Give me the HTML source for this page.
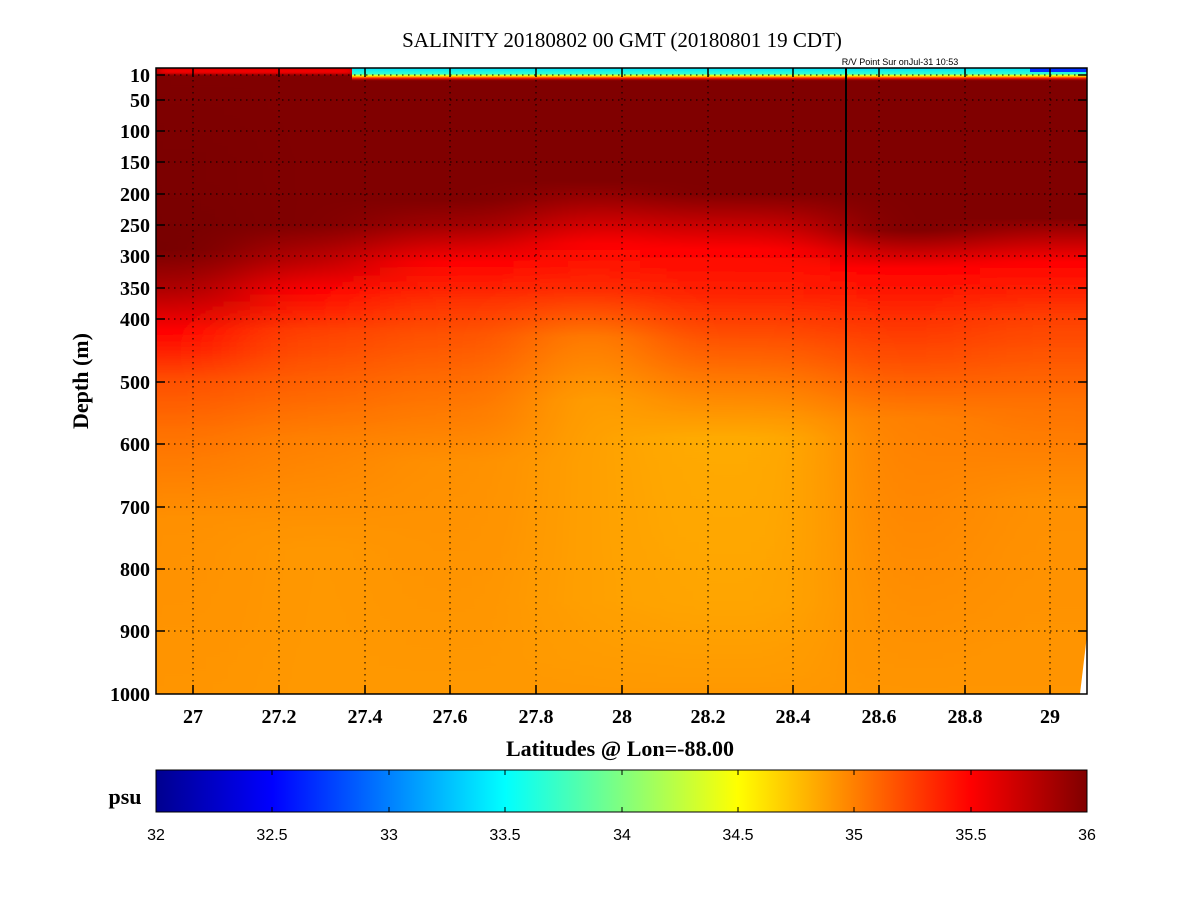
<!DOCTYPE html>
<html><head><meta charset="utf-8"><style>body{margin:0;background:#fff}svg{display:block}</style></head><body>
<svg width="1201" height="901" xmlns="http://www.w3.org/2000/svg">
<defs>
<filter id="bl" x="-20%" y="0" width="140%" height="100%"><feGaussianBlur stdDeviation="40 0"/></filter>
<filter id="bl2" x="-5%" y="-50%" width="110%" height="200%"><feGaussianBlur stdDeviation="6 1"/></filter>
<clipPath id="pc"><rect x="156" y="68" width="931" height="626"/></clipPath>
<linearGradient id="c1" gradientUnits="userSpaceOnUse" x1="0" y1="68" x2="0" y2="694">
<stop offset="0" stop-color="#800000"/><stop offset="0.29" stop-color="#780000"/><stop offset="0.355" stop-color="#b00000"/><stop offset="0.42" stop-color="#ff0000"/><stop offset="0.5" stop-color="#ff5000"/><stop offset="0.58" stop-color="#ff7000"/><stop offset="0.72" stop-color="#ff9000"/><stop offset="1" stop-color="#ff9500"/></linearGradient>
<linearGradient id="c2" gradientUnits="userSpaceOnUse" x1="0" y1="68" x2="0" y2="694">
<stop offset="0" stop-color="#800000"/><stop offset="0.25" stop-color="#800000"/><stop offset="0.31" stop-color="#c00000"/><stop offset="0.355" stop-color="#ff0000"/><stop offset="0.42" stop-color="#ff4000"/><stop offset="0.5" stop-color="#ff6000"/><stop offset="0.59" stop-color="#ff8000"/><stop offset="0.77" stop-color="#ff9800"/><stop offset="1" stop-color="#ff9800"/></linearGradient>
<linearGradient id="c3" gradientUnits="userSpaceOnUse" x1="0" y1="68" x2="0" y2="694">
<stop offset="0" stop-color="#800000"/><stop offset="0.21" stop-color="#800000"/><stop offset="0.25" stop-color="#a00000"/><stop offset="0.31" stop-color="#ff0000"/><stop offset="0.37" stop-color="#ff3000"/><stop offset="0.42" stop-color="#ff5000"/><stop offset="0.51" stop-color="#ff7000"/><stop offset="0.63" stop-color="#ff9000"/><stop offset="1" stop-color="#ff9800"/></linearGradient>
<linearGradient id="c4" gradientUnits="userSpaceOnUse" x1="0" y1="68" x2="0" y2="694">
<stop offset="0" stop-color="#800000"/><stop offset="0.18" stop-color="#800000"/><stop offset="0.21" stop-color="#a00000"/><stop offset="0.28" stop-color="#ff0000"/><stop offset="0.355" stop-color="#ff3000"/><stop offset="0.43" stop-color="#ff8000"/><stop offset="0.53" stop-color="#ffa000"/><stop offset="0.85" stop-color="#ffa000"/><stop offset="1" stop-color="#ff9800"/></linearGradient>
<linearGradient id="c5" gradientUnits="userSpaceOnUse" x1="0" y1="68" x2="0" y2="694">
<stop offset="0" stop-color="#800000"/><stop offset="0.2" stop-color="#800000"/><stop offset="0.29" stop-color="#ff0000"/><stop offset="0.355" stop-color="#ff2000"/><stop offset="0.43" stop-color="#ff5000"/><stop offset="0.51" stop-color="#ff8000"/><stop offset="0.59" stop-color="#ffaa00"/><stop offset="0.85" stop-color="#ffa500"/><stop offset="1" stop-color="#ff9800"/></linearGradient>
<linearGradient id="c6" gradientUnits="userSpaceOnUse" x1="0" y1="68" x2="0" y2="694">
<stop offset="0" stop-color="#800000"/><stop offset="0.26" stop-color="#800000"/><stop offset="0.32" stop-color="#ff0000"/><stop offset="0.4" stop-color="#ff3000"/><stop offset="0.47" stop-color="#ff5000"/><stop offset="0.56" stop-color="#ff8000"/><stop offset="1" stop-color="#ff9500"/></linearGradient>
<linearGradient id="c7" gradientUnits="userSpaceOnUse" x1="0" y1="68" x2="0" y2="694">
<stop offset="0" stop-color="#800000"/><stop offset="0.24" stop-color="#800000"/><stop offset="0.31" stop-color="#ff0000"/><stop offset="0.4" stop-color="#ff4000"/><stop offset="0.53" stop-color="#ff7000"/><stop offset="0.69" stop-color="#ff9000"/><stop offset="1" stop-color="#ff9500"/></linearGradient>
<linearGradient id="surf" x1="0" y1="0" x2="0" y2="1">
<stop offset="0" stop-color="#00e0ff"/><stop offset="0.45" stop-color="#30ffd0"/><stop offset="0.6" stop-color="#ffff00"/><stop offset="0.78" stop-color="#ff2000"/><stop offset="1" stop-color="#a00000" stop-opacity="0"/></linearGradient>
<linearGradient id="jet" x1="0" y1="0" x2="1" y2="0">
<stop offset="0" stop-color="#00008f"/><stop offset="0.125" stop-color="#0000ff"/><stop offset="0.375" stop-color="#00ffff"/><stop offset="0.625" stop-color="#ffff00"/><stop offset="0.875" stop-color="#ff0000"/><stop offset="1" stop-color="#800000"/></linearGradient>
</defs>
<g clip-path="url(#pc)">
<rect x="156" y="68" width="931" height="626" fill="#ff9500"/>
<g filter="url(#bl)">
<rect x="60" y="68" width="190" height="626" fill="url(#c1)"/>
<rect x="250" y="68" width="130" height="626" fill="url(#c2)"/>
<rect x="380" y="68" width="160" height="626" fill="url(#c3)"/>
<rect x="540" y="68" width="100" height="626" fill="url(#c4)"/>
<rect x="640" y="68" width="190" height="626" fill="url(#c5)"/>
<rect x="830" y="68" width="150" height="626" fill="url(#c6)"/>
<rect x="980" y="68" width="200" height="626" fill="url(#c7)"/>
</g>
<rect x="156" y="68" width="200" height="6" fill="#f00000" filter="url(#bl2)"/>
<rect x="352" y="68" width="740" height="13" fill="url(#surf)"/>
<rect x="1030" y="68" width="60" height="4" fill="#0030ff"/>
<polygon points="1087,635 1087,694 1080,694" fill="#fff"/>
</g>
<g stroke="#000" stroke-width="1" stroke-dasharray="1.5,4.5">
<path d="M193 68V694M279 68V694M365 68V694M450 68V694M536 68V694M622 68V694M708 68V694M793 68V694M879 68V694M965 68V694M1050 68V694"/>
<path d="M156 75H1087M156 100H1087M156 131H1087M156 162H1087M156 194H1087M156 225H1087M156 256H1087M156 288H1087M156 319H1087M156 382H1087M156 444H1087M156 507H1087M156 569H1087M156 631H1087"/>
</g>
<line x1="846" y1="68" x2="846" y2="694" stroke="#000" stroke-width="2"/>
<g stroke="#000" stroke-width="1.5">
<path d="M193 68v9M279 68v9M365 68v9M450 68v9M536 68v9M622 68v9M708 68v9M793 68v9M879 68v9M965 68v9M1050 68v9"/>
<path d="M193 694v-9M279 694v-9M365 694v-9M450 694v-9M536 694v-9M622 694v-9M708 694v-9M793 694v-9M879 694v-9M965 694v-9M1050 694v-9"/>
<path d="M156 75h9M156 100h9M156 131h9M156 162h9M156 194h9M156 225h9M156 256h9M156 288h9M156 319h9M156 382h9M156 444h9M156 507h9M156 569h9M156 631h9"/>
<path d="M1087 75h-9M1087 100h-9M1087 131h-9M1087 162h-9M1087 194h-9M1087 225h-9M1087 256h-9M1087 288h-9M1087 319h-9M1087 382h-9M1087 444h-9M1087 507h-9M1087 569h-9M1087 631h-9"/>
</g>
<rect x="156" y="68" width="931" height="626" fill="none" stroke="#000" stroke-width="1.5"/>
<text x="622" y="47" font-family="Liberation Serif, serif" font-size="21" text-anchor="middle">SALINITY 20180802 00 GMT (20180801 19 CDT)</text>
<text x="900" y="65" font-family="Liberation Sans, sans-serif" font-size="9" text-anchor="middle">R/V Point Sur onJul-31 10:53</text>
<g font-family="Liberation Serif, serif" font-size="20" font-weight="bold" text-anchor="end">
<text x="150" y="82">10</text><text x="150" y="107">50</text><text x="150" y="138">100</text><text x="150" y="169">150</text><text x="150" y="201">200</text><text x="150" y="232">250</text><text x="150" y="263">300</text><text x="150" y="295">350</text><text x="150" y="326">400</text><text x="150" y="389">500</text><text x="150" y="451">600</text><text x="150" y="514">700</text><text x="150" y="576">800</text><text x="150" y="638">900</text><text x="150" y="701">1000</text>
</g>
<g font-family="Liberation Serif, serif" font-size="20" font-weight="bold" text-anchor="middle">
<text x="193" y="723">27</text><text x="279" y="723">27.2</text><text x="365" y="723">27.4</text><text x="450" y="723">27.6</text><text x="536" y="723">27.8</text><text x="622" y="723">28</text><text x="708" y="723">28.2</text><text x="793" y="723">28.4</text><text x="879" y="723">28.6</text><text x="965" y="723">28.8</text><text x="1050" y="723">29</text>
</g>
<text x="620" y="756" font-family="Liberation Serif, serif" font-size="22" font-weight="bold" text-anchor="middle">Latitudes @ Lon=-88.00</text>
<text transform="translate(88,381) rotate(-90)" font-family="Liberation Serif, serif" font-size="22" font-weight="bold" text-anchor="middle">Depth (m)</text>
<rect x="156" y="770" width="931" height="42" fill="url(#jet)" stroke="#000" stroke-width="1"/>
<g stroke="#000" stroke-width="1">
<path d="M272 770v5M389 770v5M505 770v5M622 770v5M738 770v5M854 770v5M971 770v5M272 812v-5M389 812v-5M505 812v-5M622 812v-5M738 812v-5M854 812v-5M971 812v-5"/>
</g>
<text x="125" y="804" font-family="Liberation Serif, serif" font-size="22" font-weight="bold" text-anchor="middle">psu</text>
<g font-family="Liberation Sans, sans-serif" font-size="16" text-anchor="middle">
<text x="156" y="840">32</text><text x="272" y="840">32.5</text><text x="389" y="840">33</text><text x="505" y="840">33.5</text><text x="622" y="840">34</text><text x="738" y="840">34.5</text><text x="854" y="840">35</text><text x="971" y="840">35.5</text><text x="1087" y="840">36</text>
</g>
</svg>
</body></html>
